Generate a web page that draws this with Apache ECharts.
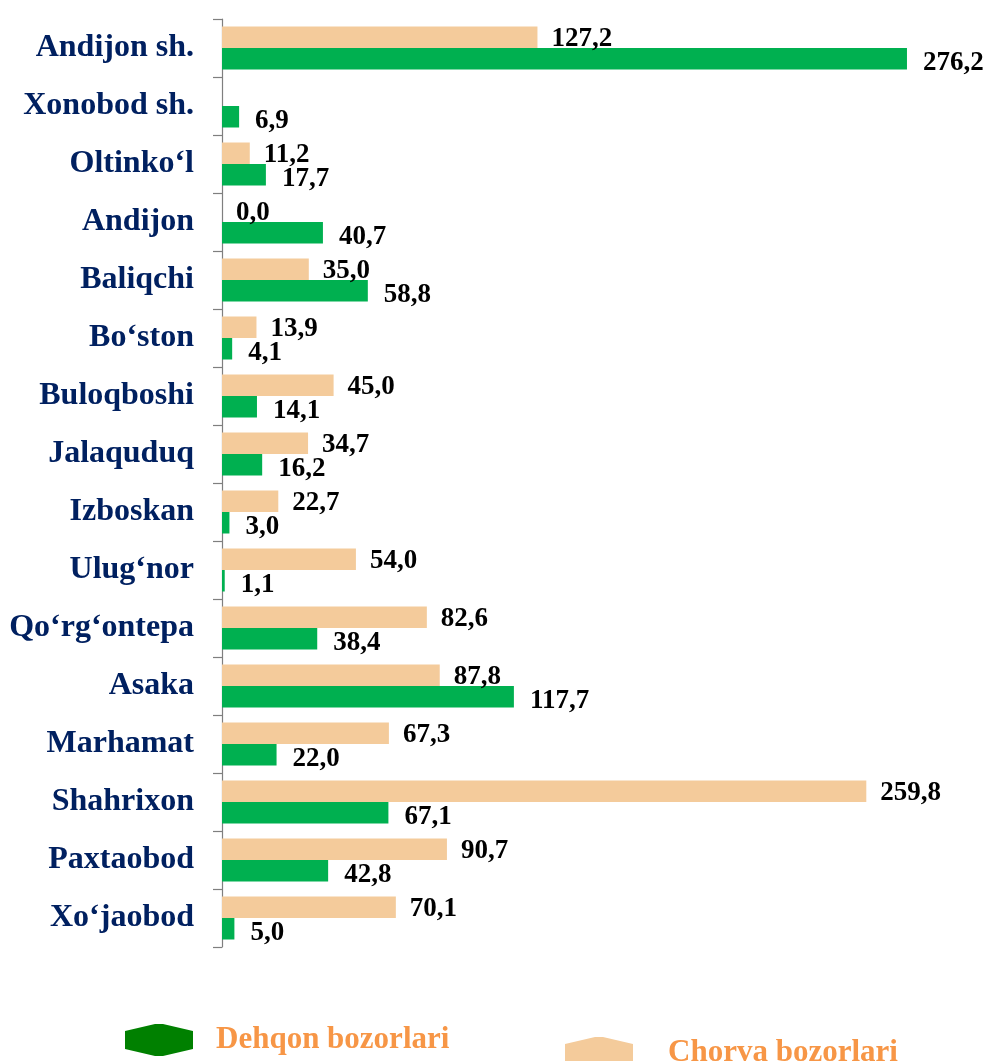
<!DOCTYPE html>
<html>
<head>
<meta charset="utf-8">
<script src="https://cdn.jsdelivr.net/npm/echarts@6/dist/echarts.min.js"></script>
<style>html,body{margin:0;padding:0;background:#fff;}#c{width:986px;height:1061px;}</style>
</head>
<body>
<div id="c"></div>
<script>
var categories = ['Andijon sh.', 'Xonobod sh.', 'Oltinko\u2018l', 'Andijon', 'Baliqchi', 'Bo\u2018ston', 'Buloqboshi', 'Jalaquduq', 'Izboskan', 'Ulug\u2018nor', 'Qo\u2018rg\u2018ontepa', 'Asaka', 'Marhamat', 'Shahrixon', 'Paxtaobod', 'Xo\u2018jaobod'];
var chorva = [127.2, null, 11.2, 0.0, 35.0, 13.9, 45.0, 34.7, 22.7, 54.0, 82.6, 87.8, 67.3, 259.8, 90.7, 70.1];
var dehqon = [276.2, 6.9, 17.7, 40.7, 58.8, 4.1, 14.1, 16.2, 3.0, 1.1, 38.4, 117.7, 22.0, 67.1, 42.8, 5.0];
var seriesNames = ['Dehqon bozorlari', 'Chorva bozorlari'];

var FONT = '"Liberation Serif", "Times New Roman", serif';
var hexIcon = 'path://M0,7 L30,0 L38,0 L68,7 L68,25 L38,32 L30,32 L0,25 Z';
function fmt(p) { return p.value == null ? '' : Number(p.value).toFixed(1).replace('.', ','); }
function labelStyle(dist, dy) {
  return {
    show: true, position: 'right', distance: dist, offset: [0, dy], formatter: fmt,
    color: '#000', fontSize: 27, fontWeight: 'bold', fontFamily: FONT
  };
}

var chart = echarts.init(document.getElementById('c'), null, {renderer: 'canvas'});
chart.setOption({
  animation: false,
  backgroundColor: '#fff',
  grid: {left: 222, right: 20, top: 19, bottom: 114, containLabel: false},
  xAxis: {
    type: 'value', min: 0, max: 300, show: false
  },
  yAxis: {
    type: 'category', data: categories, inverse: true,
    axisLine: {show: true, lineStyle: {color: '#7f7f7f', width: 1.2}},
    axisTick: {show: true, length: 9, lineStyle: {color: '#7f7f7f', width: 1.2}},
    axisLabel: {margin: 28, color: '#002060', fontSize: 32, fontWeight: 'bold', fontFamily: FONT, padding: [6, 0, 0, 0]}
  },
  legend: [{
    left: 125, top: 1024, itemWidth: 68, itemHeight: 32, padding: 0,
    data: [{name: seriesNames[0], icon: hexIcon, itemStyle: {color: '#008000'}}],
    textStyle: {color: '#F79646', fontSize: 31, fontWeight: 'bold', fontFamily: FONT, padding: [0, 0, 0, 18]}
  }, {
    left: 565, top: 1037, itemWidth: 68, itemHeight: 32, padding: 0,
    data: [{name: seriesNames[1], icon: hexIcon, itemStyle: {color: '#F4CB9B'}}],
    textStyle: {color: '#F79646', fontSize: 31, fontWeight: 'bold', fontFamily: FONT, padding: [0, 0, 0, 30]}
  }],
  series: [{
    name: seriesNames[1], type: 'bar', data: chorva, barWidth: 21.5, barGap: '0%',
    itemStyle: {color: '#F4CB9B'}, label: labelStyle(14, 2)
  }, {
    name: seriesNames[0], type: 'bar', data: dehqon, barWidth: 21.5, barGap: '0%',
    itemStyle: {color: '#00B050'}, label: labelStyle(16, 4)
  }]
});
</script>
</body>
</html>
